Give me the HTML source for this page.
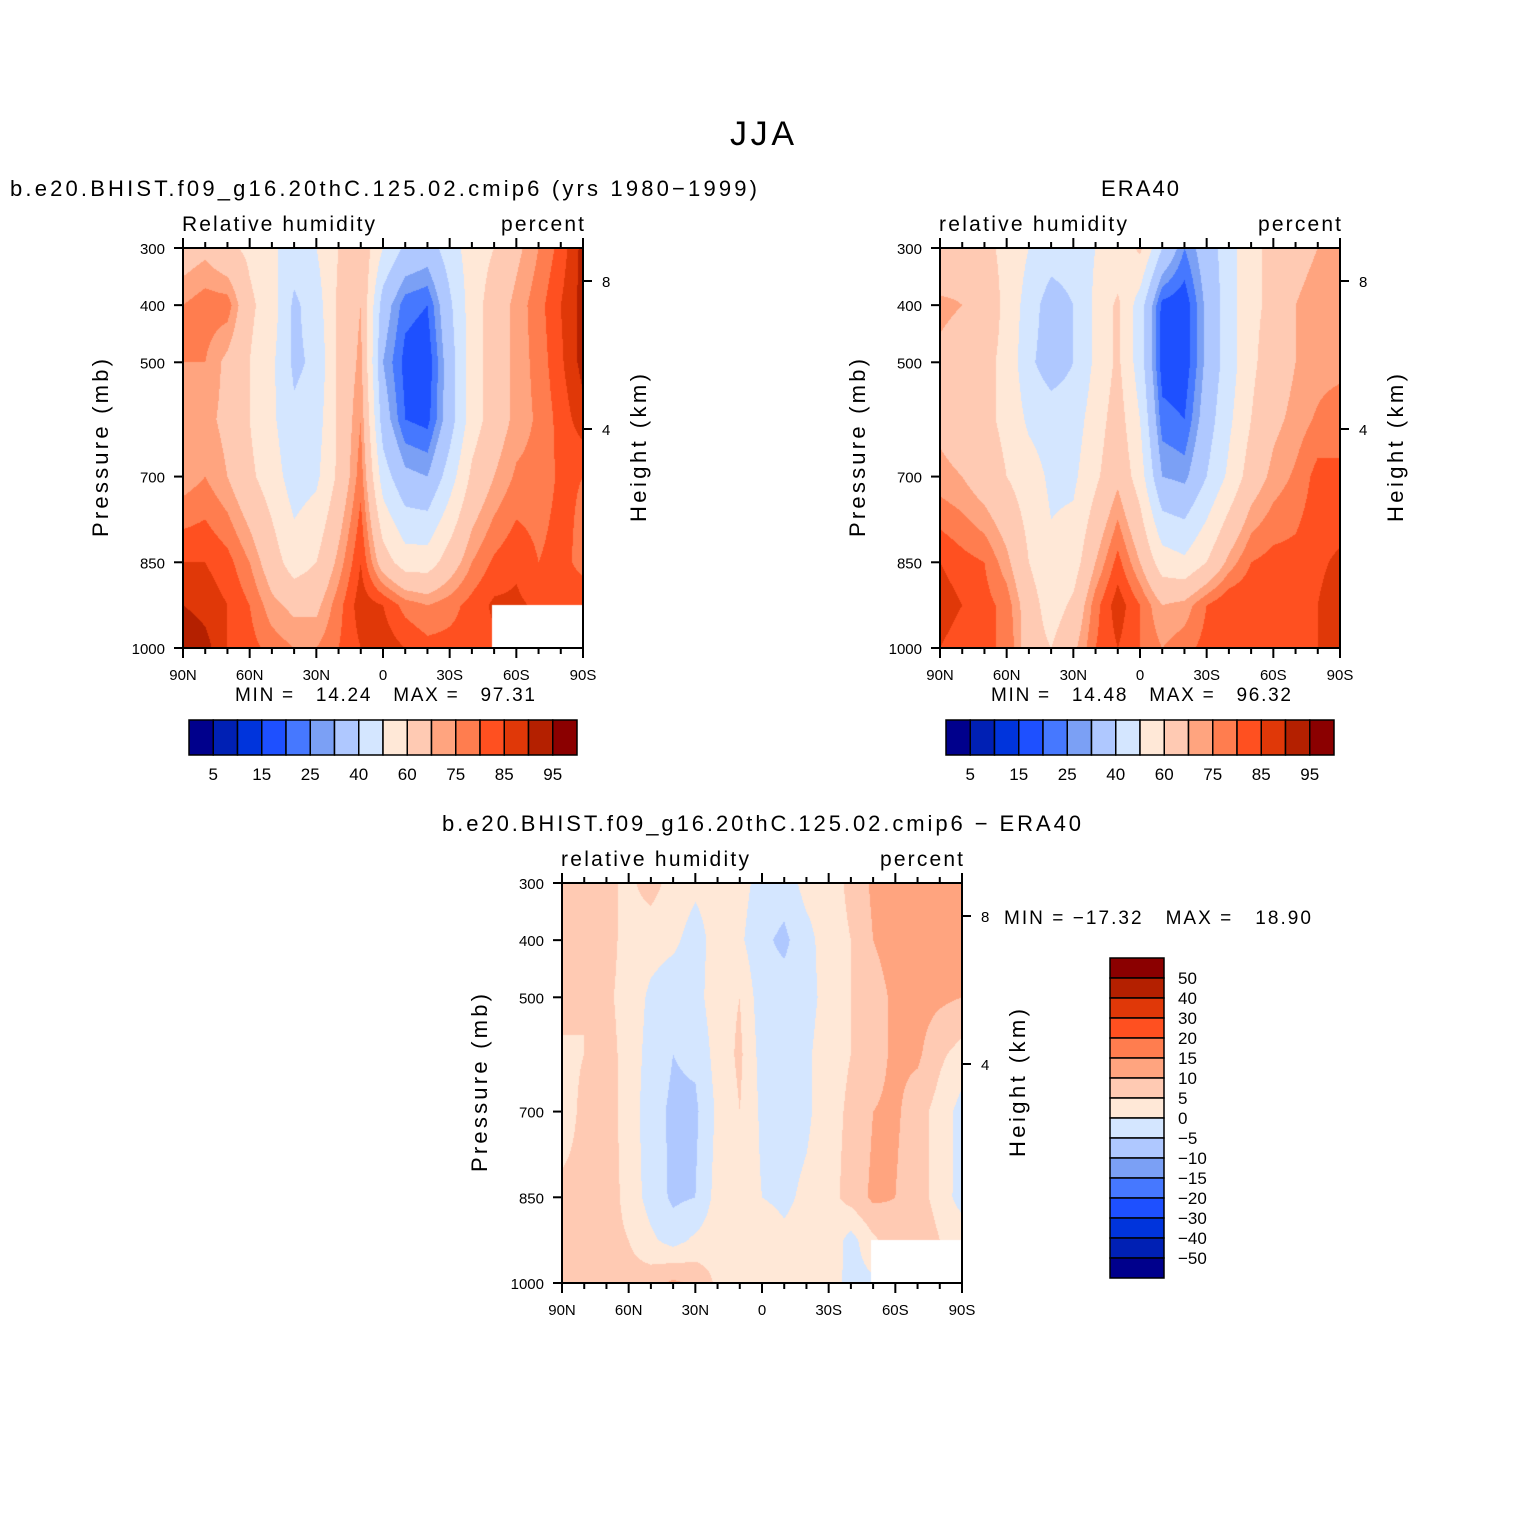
<!DOCTYPE html>
<html><head><meta charset="utf-8"><style>
html,body{margin:0;padding:0;background:#fff;}
#root{position:relative;width:1524px;height:1524px;overflow:hidden;font-family:"Liberation Sans",sans-serif;}
canvas{position:absolute;}
svg{position:absolute;left:0;top:0;}
</style></head><body>
<div id="root">
<canvas id="c1" width="400" height="400" style="left:183px;top:248px"></canvas>
<canvas id="c2" width="400" height="400" style="left:940px;top:248px"></canvas>
<canvas id="c3" width="400" height="400" style="left:562px;top:883px"></canvas>
<svg id="ov" width="1524" height="1524"></svg>
</div>
<script>
// ---- data ----
const lats = [90,80,70,60,50,40,30,20,10,0,-10,-20,-30,-40,-50,-60,-70,-80,-90];
const levels = [300,400,500,600,700,850,925,1000];
const modelRH = [
[65,68,62,58,52,45,50,60,68,50,38,35,45,55,60,68,75,82,92],
[75,78,78,62,55,38,45,62,70,35,22,20,38,55,65,72,78,85,92],
[75,75,68,60,52,38,42,62,72,30,18,16,35,55,65,72,77,84,92],
[70,72,68,60,52,42,45,62,75,35,20,18,35,55,65,72,76,82,88],
[72,75,70,62,55,45,48,62,78,45,32,30,45,62,70,76,77,81,80],
[85,85,82,75,65,55,60,72,85,65,55,55,65,75,81,84,80,82,78],
[90,88,85,80,72,68,68,78,88,85,78,75,78,82,86,86,84,84,84],
[95,92,85,82,78,75,75,80,85,88,85,82,82,82,84,84,84,84,84]];
const eraRH = [
[60,65,62,58,50,45,45,50,52,62,40,25,35,45,58,62,68,70,72],
[72,70,65,58,45,35,40,52,62,45,18,16,32,45,58,62,70,72,72],
[68,65,62,58,42,35,40,52,62,45,17,16,32,45,58,65,70,72,72],
[68,65,62,58,48,45,45,55,65,50,22,20,35,48,60,68,72,76,80],
[72,70,65,60,55,48,48,58,68,55,30,28,40,52,65,72,76,82,80],
[85,82,80,72,60,52,55,70,82,70,55,52,60,72,80,82,82,84,86],
[88,85,82,78,65,55,62,78,88,80,70,72,80,85,85,85,85,85,88],
[85,82,80,80,65,60,68,80,85,80,75,78,82,82,82,80,82,85,85]];
const diffRH = [
[7,8,6,4,7,3,1,2,2,-2,-3,2,3,6,11,12,11,10,14],
[7,6,7,3,2,1,-2,2,1,-4,-6,-2,3,5,10,12,12,11,12],
[7,5,6,3,-1,-3,-2,3,5,-3,-3,-2,2,5,8,11,12,11,10],
[4,5,7,3,-2,-5,-4,2,6,-2,-2,-1,3,5,8,11,11,6,3],
[3,6,7,3,-3,-6,-6,1,5,-1,-2,-1,3,6,10,11,7,3,-2],
[6,6,8,3,-2,-6,-5,2,3,0,-1,1,3,7,11,10,6,4,-3],
[8,7,7,5,1,-2,1,3,2,3,1,2,4,-2,4,8,7,5,5],
[7,7,6,7,8,11,9,4,2,1,3,3,3,-2,-1,2,3,4,5]];
const rhLevels = [5,10,15,20,25,30,40,50,60,70,75,80,85,90,95];
const rhLabels = ["5","15","25","40","60","75","85","95"];
const diffLevels = [-50,-40,-30,-20,-15,-10,-5,0,5,10,15,20,30,40,50];
const diffLabels = ["50","40","30","20","15","10","5","0","\u22125","\u221210","\u221215","\u221220","\u221230","\u221240","\u221250"];
const pTicks = [300,400,500,700,850,1000];
const latTicks = [90,60,30,0,-30,-60,-90];
const latTickLabels = ["90N","60N","30N","0","30S","60S","90S"];
const heightTicks = [4,8];
const colors = ["#00008c","#0020b4","#0034dc","#1e50ff","#4678ff","#7ba0f5","#afc8ff","#d4e6ff","#ffe8d7","#ffcab3","#ffa47f","#ff7d4f","#ff5020","#e03808","#b42000","#8b0000"];

// ---- axis functions ----
const W=400,H=400;
const xOf = lat => (90-lat)/180*W;
const yOf = p => (p-300)/700*H;
const yOfH = h => 181 - (h-4)*37;
function hex(c){return [parseInt(c.slice(1,3),16),parseInt(c.slice(3,5),16),parseInt(c.slice(5,7),16)];}
const rgb = colors.map(hex);
function binOf(v,lv){let i=0;while(i<lv.length&&v>=lv[i])i++;return i;}
function sample(grid,lat,p){
  let li=0;while(li<lats.length-2&&lat<lats[li+1])li++;
  let tx=(lats[li]-lat)/(lats[li]-lats[li+1]);
  let pi=0;while(pi<levels.length-2&&p>levels[pi+1])pi++;
  let ty=(p-levels[pi])/(levels[pi+1]-levels[pi]);
  tx=Math.max(0,Math.min(1,tx));ty=Math.max(0,Math.min(1,ty));
  const a=grid[pi][li],b=grid[pi][li+1],c=grid[pi+1][li],d=grid[pi+1][li+1];
  return (a*(1-tx)+b*tx)*(1-ty)+(c*(1-tx)+d*tx)*ty;
}
function draw(id,grid,lv,mask){
  const ctx=document.getElementById(id).getContext('2d');
  const img=ctx.createImageData(W,H);
  for(let y=0;y<H;y++){const p=300+ (y+0.5)/H*700;
    for(let x=0;x<W;x++){const lat=90-(x+0.5)/W*180;
      let c=[255,255,255];
      if(!(mask&&lat<mask.lat&&p>mask.p)) c=rgb[binOf(sample(grid,lat,p),lv)];
      const k=(y*W+x)*4;img.data[k]=c[0];img.data[k+1]=c[1];img.data[k+2]=c[2];img.data[k+3]=255;}}
  ctx.putImageData(img,0,0);
}
const mask={lat:-49,p:925};
draw('c1',modelRH,rhLevels,mask);
draw('c2',eraRH,rhLevels,null);
draw('c3',diffRH,diffLevels,mask);

// ---- svg annotations ----
const NS="http://www.w3.org/2000/svg";
const svg=document.getElementById('ov');
function el(tag,attrs,text){const e=document.createElementNS(NS,tag);for(const k in attrs)e.setAttribute(k,attrs[k]);if(text!==undefined)e.textContent=text;svg.appendChild(e);return e;}
function txt(x,y,s,size,anchor,name,rot,len){const a={x:x,y:y,'font-size':size,'text-anchor':anchor||'start','font-family':'Liberation Sans, sans-serif',fill:'#000'};if(rot)a.transform='rotate(-90 '+x+' '+y+')';if(len){a.textLength=len;a.lengthAdjust='spacing';}const e=el('text',a,s);


e.style.whiteSpace='pre';
return e;}
function line(x1,y1,x2,y2,w,name){const e=el('line',{x1:x1,y1:y1,x2:x2,y2:y2,stroke:'#000','stroke-width':w});

}

function panel(ox,oy,title,titleX,titleAnchor,titleLen,left,leftLen,prefix){
  txt(titleX,oy-52,title,22,titleAnchor,prefix+'-title',false,titleLen);
  txt(ox-1,oy-17,left,21,'start',prefix+'-variable-label',false,leftLen);
  txt(ox+W+1,oy-17,'percent',21,'end',prefix+'-units-label',false,83);
  const r=el('rect',{x:ox,y:oy,width:W,height:H,fill:'none',stroke:'#000','stroke-width':2});
  
  
  pTicks.forEach(p=>{const y=oy+yOf(p);line(ox-9,y,ox,y,2,prefix+'-y-tick');txt(ox-18,y+6,String(p),15,'end',prefix+'-y-tick-label');});
  for(let l=90;l>=-90;l-=10){const x=ox+xOf(l);const maj=(l%30===0);
    line(x,oy+H,x,oy+H+(maj?10:6),2,prefix+'-x-tick');line(x,oy,x,oy-(maj?10:6),2,prefix+'-top-tick');}
  latTicks.forEach((l,i)=>txt(ox+xOf(l),oy+H+32,latTickLabels[i],15,'middle',prefix+'-x-tick-label'));
  heightTicks.forEach(h=>{const y=oy+yOfH(h);line(ox+W,y,ox+W+9,y,2,prefix+'-height-tick');txt(ox+W+19,y+6,String(h),15,'start',prefix+'-height-tick-label');});
  txt(ox-75,oy+H/2,'Pressure (mb)',22,'middle',prefix+'-y-axis-title',true,178);
  txt(ox+W+63,oy+H/2,'Height (km)',22,'middle',prefix+'-right-axis-title',true,148);
}
txt(762,145,'JJA',34,'middle','figure-title',false,64);
panel(183,248,'b.e20.BHIST.f09_g16.20thC.125.02.cmip6 (yrs 1980\u22121999)',10,'start',747,'Relative humidity',193,'model');
panel(940,248,'ERA40',1140,'middle',78,'relative humidity',188,'era40');
panel(562,883,'b.e20.BHIST.f09_g16.20thC.125.02.cmip6 \u2212 ERA40',442,'start',639,'relative humidity',188,'diff');
txt(235,701,'MIN =   14.24   MAX =   97.31',19,'start','model-min-max',false,300);
txt(991,701,'MIN =   14.48   MAX =   96.32',19,'start','era40-min-max',false,300);
txt(1004,924,'MIN = \u221217.32   MAX =   18.90',19,'start','diff-min-max',false,307);

function hbar(x0,prefix){
  const bw=388/16;
  colors.forEach((c,i)=>{const r=el('rect',{x:x0+i*bw,y:720,width:bw,height:35,fill:c,stroke:'#000','stroke-width':1.5});
    
    });
  rhLabels.forEach((s,i)=>txt(x0+(2*i+1)*bw,780,s,17,'middle',prefix+'-colorbar-label'));
}
hbar(189,'model');hbar(946,'era40');
(function(){const x0=1110,y0=958,bh=20;
  for(let i=0;i<16;i++){const r=el('rect',{x:x0,y:y0+i*bh,width:54,height:bh,fill:colors[15-i],stroke:'#000','stroke-width':1.5});
    
    }
  diffLabels.forEach((s,i)=>txt(x0+68,y0+(i+1)*bh+6,s,17,'start','diff-colorbar-label'));
})();
</script>
</body></html>
